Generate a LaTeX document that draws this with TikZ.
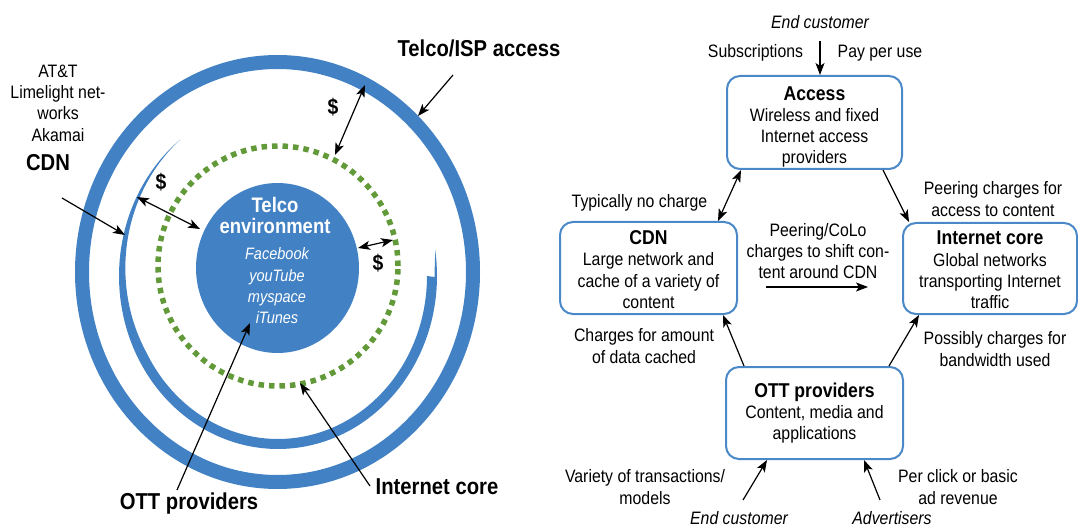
\documentclass[tikz,border=0pt]{standalone}
\usepackage{fontspec}
\setmainfont{Liberation Sans}[FakeStretch=0.88]
\usetikzlibrary{arrows.meta}
\definecolor{ringblue}{RGB}{66,130,196}
\definecolor{boxblue}{RGB}{74,136,200}
\definecolor{dotgreen}{RGB}{98,154,58}
\newcommand\cardtitle{\fontsize{20}{21.3}\selectfont\bfseries}

\begin{document}
\begin{tikzpicture}[x=1pt,y=-1pt,
  tip/.tip={Stealth[length=12pt,width=9pt,inset=3pt]},
  arr/.style={line width=1.2pt,-tip},
  darr/.style={line width=1.2pt,tip-tip},
  txt/.style={font=\fontsize{18}{21.3}\selectfont,align=center,inner sep=0pt},
  itxt/.style={txt,font=\fontsize{18}{21.3}\selectfont\itshape},
  big/.style={font=\fontsize{23}{26}\selectfont\bfseries,inner sep=0pt},
  dollar/.style={font=\fontsize{22}{24}\selectfont\bfseries,inner sep=0pt},
  card/.style={draw=boxblue,line width=2pt,rounded corners=13pt,inner sep=0pt}]
\useasboundingbox (0,0) rectangle (1078,529);

% ---------- concentric view ----------
% outer access ring
\draw[ringblue,line width=14pt] (277.5,272) ellipse [x radius=195.5pt,y radius=210pt];
% CDN spiral, widening as it winds
\fill[ringblue]
  plot[domain=128:368.6,samples=160] ({278+159*cos(\x)},{276-173*sin(\x)})
  -- (434.5,277)
  -- plot[domain=360:128,samples=160]
     ({278+(159-min(10,(\x-128)/8))*cos(\x)},{276-(173-min(10,(\x-128)/8))*sin(\x)})
  -- cycle;
% internet core (dotted)
\draw[dotgreen,line width=5.5pt,dash pattern=on 5.5pt off 5pt] (278,266) circle [radius=120pt];
% telco environment
\fill[ringblue] (277.5,268) ellipse [x radius=81.5pt,y radius=85pt];
\node[font=\fontsize{21}{21}\selectfont\bfseries,text=white,align=center,inner sep=0pt] (telco) at (275,215) {Telco\\environment};
\node[font=\fontsize{16.5}{21.3}\selectfont\itshape,text=white,align=center,inner sep=0pt] (apps) at (277,286) {Facebook\\youTube\\myspace\\iTunes};

% labels
\node[big] (lIsp) at (479,48) {Telco/ISP access};
\node[txt] (lCdnList) at (58,103) {AT\&T\\Limelight net-\\works\\Akamai};
\node[big] (lCdn) at (48,163) {CDN};
\node[big] (lOtt) at (189,504) {OTT providers};
\node[big] (lCore) at (437,487) {Internet core};
\node[dollar] (d1) at (333,107) {\$};
\node[dollar] (d2) at (161,182) {\$};
\node[dollar] (d3) at (378,263) {\$};

% pointer ends
\coordinate (ispA) at (453,75);   \coordinate (ispB) at (418,116);
\coordinate (cdnA) at (62,198);   \coordinate (cdnB) at (125,235);
\coordinate (ottA) at (177,490);  \coordinate (ottB) at (250,323);
\coordinate (coreA) at (370,486); \coordinate (coreB) at (300,383);
\coordinate (d1A) at (365,85);    \coordinate (d1B) at (335,155);
\coordinate (d2A) at (137,197);   \coordinate (d2B) at (200,229);
\coordinate (d3A) at (358,248);   \coordinate (d3B) at (393,240);

\draw[arr] (ispA) -- (ispB);
\draw[arr] (cdnA) -- (cdnB);
\draw[arr] (ottA) -- (ottB);
\draw[arr] (coreA) -- (coreB);
\draw[darr] (d1A) -- (d1B);
\draw[darr] (d2A) -- (d2B);
\draw[darr] (d3A) -- (d3B);

% ---------- value chain ----------
\node[card,minimum width=175pt,minimum height=93pt] (access) at (814.5,122.5) {};
\node[card,minimum width=177pt,minimum height=92pt] (cdn) at (648.5,268) {};
\node[card,minimum width=174pt,minimum height=91pt] (core) at (990,268.5) {};
\node[card,minimum width=177pt,minimum height=92pt] (ott) at (814.5,413) {};

\node[txt] (accessT) at (814.5,127) {{\cardtitle Access}\\Wireless and fixed\\Internet access\\providers};
\node[txt] (cdnT) at (648.5,269.5) {{\cardtitle CDN}\\Large network and\\cache of a variety of\\content};
\node[txt] (coreT) at (990,270) {{\cardtitle Internet core}\\Global networks\\transporting Internet\\traffic};
\node[txt] (ottT) at (814.5,413) {{\cardtitle OTT providers}\\Content, media and\\applications};

\node[itxt] (ecTop) at (820,22) {End customer};
\node[txt] (subs) at (755.5,53) {Subscriptions};
\node[txt] (ppu) at (880,53) {Pay per use};
\node[txt] (nocharge) at (639.5,203) {Typically no charge};
\node[txt] (peer) at (993,199) {Peering charges for\\access to content};
\node[txt] (colo) at (818,251) {Peering/CoLo\\charges to shift con-\\tent around CDN};
\node[txt] (amount) at (644,346) {Charges for amount\\of data cached};
\node[txt] (bandw) at (995,349) {Possibly charges for\\bandwidth used};
\node[txt] (variety) at (645,487) {Variety of transactions/\\models};
\node[txt] (perclick) at (958,487) {Per click or basic\\ad revenue};
\node[itxt] (ecBot) at (739,518) {End customer};
\node[itxt] (adv) at (892,518) {Advertisers};

\coordinate (topA) at (820,41);
\coordinate (midA) at (766,287);
\coordinate (midB) at (868,287);
\coordinate (ecA) at (743,500);
\coordinate (advA) at (880,500);

\draw[arr] (topA) -- ([xshift=5.5pt]access.north);
\draw[darr] ([xshift=15pt]access.south west) -- ([xshift=-20pt]cdn.north east);
\draw[arr] ([xshift=-20pt]access.south east) -- ([xshift=7pt]core.north west);
\draw[arr] ([xshift=19pt]ott.north west) -- ([xshift=-15pt]cdn.south east);
\draw[arr] ([xshift=-15pt]ott.north east) -- ([xshift=17pt]core.south west);
\draw[arr] (midA) -- (midB);
\draw[arr] (ecA) -- ([xshift=42pt]ott.south west);
\draw[arr] (advA) -- ([xshift=-40pt]ott.south east);
\end{tikzpicture}
\end{document}
